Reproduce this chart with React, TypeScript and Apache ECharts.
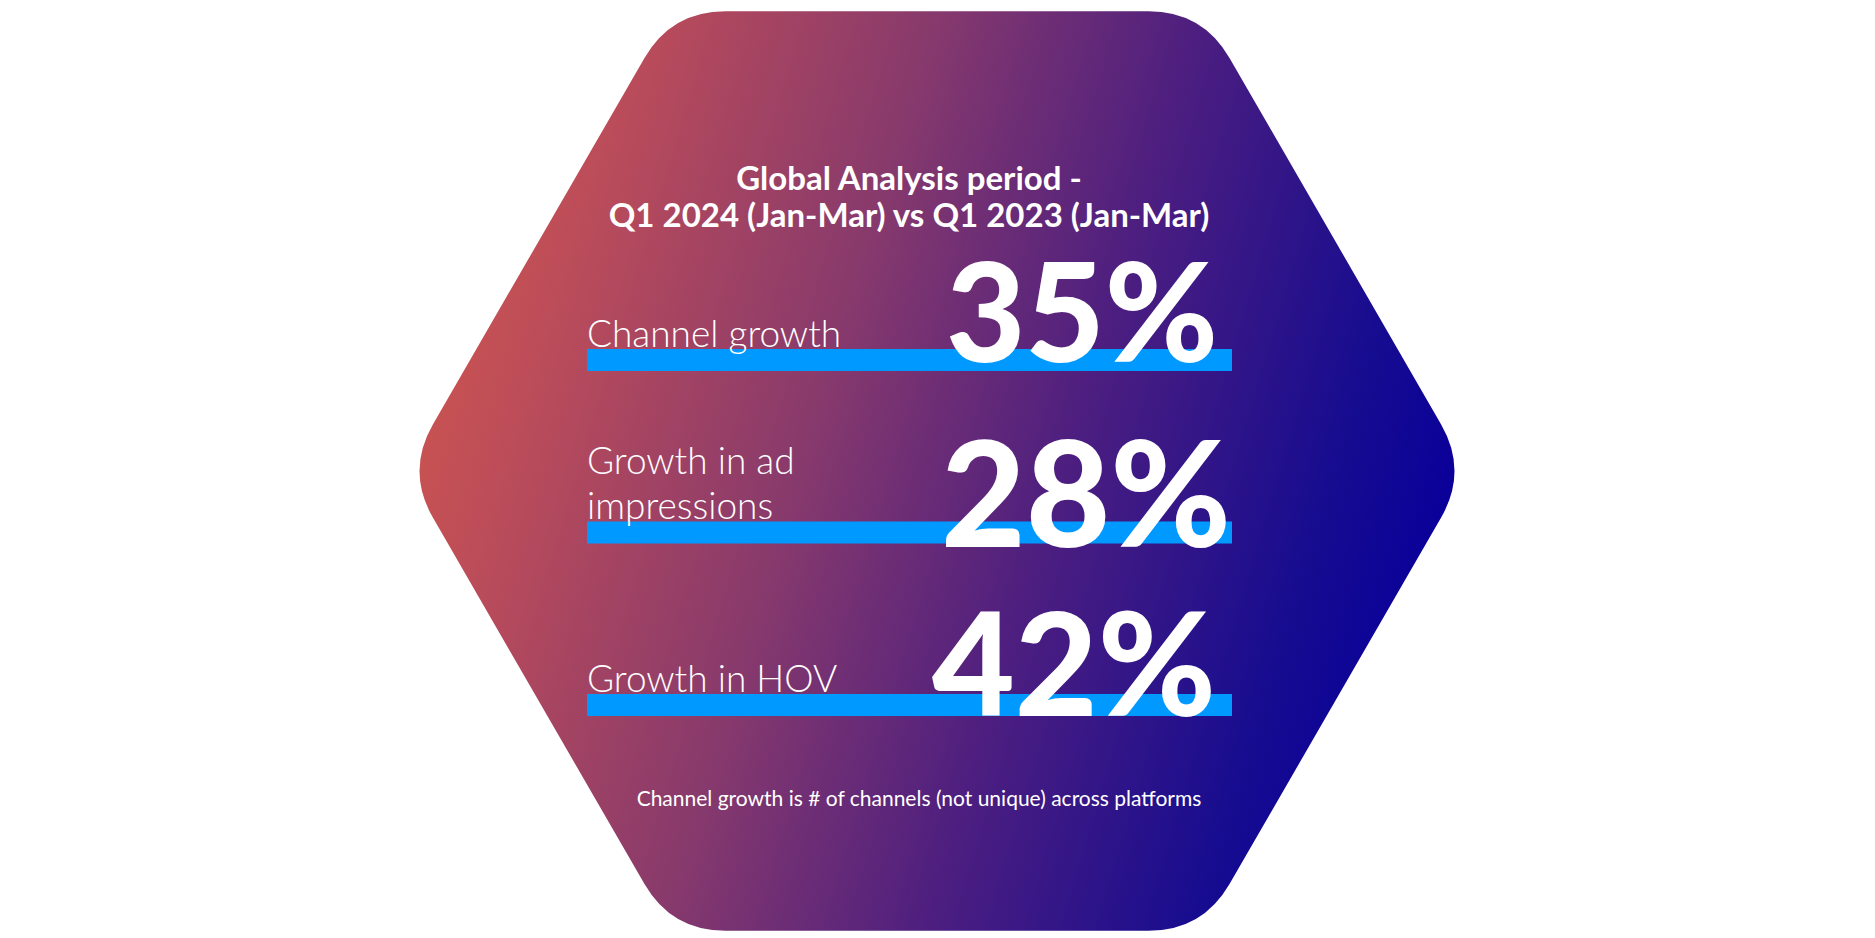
import React, { useEffect, useRef } from "react";
import * as echarts from "echarts";

// ---------------- data ----------------
const metricNames = ["Channel growth", "Growth in ad\nimpressions", "Growth in HOV"];
const growthPercent = [35, 28, 42];
const underlineSpan = [100, 100, 100];
const titleLines = ["Global Analysis period -", "Q1 2024 (Jan-Mar) vs Q1 2023 (Jan-Mar)"];
const footnoteText = "Channel growth is # of channels (not unique) across platforms";

// ---------------- layout / style ----------------
const W = 1875;
const H = 938;
const HEX = { cx: 937, cy: 471, side: 531, corner: 54 };
const NUMBER_FONT = [137, 146, 143];
const NUMBER_OFFSET: [number, number][] = [
  [-150, -51],
  [-146, -42.5],
  [-158, -45],
];
const GRADIENT_STOPS = [
  { offset: 0, color: "#C85252" },
  { offset: 0.113, color: "#B84B5B" },
  { offset: 0.366, color: "#883A6C" },
  { offset: 0.627, color: "#4C1E80" },
  { offset: 0.881, color: "#160C90" },
  { offset: 1, color: "#0A009A" },
];

function hexPath(): string {
  const { cx, cy, side, corner } = HEX;
  const h = (side * Math.sqrt(3)) / 2;
  const v = [
    [cx - side / 2, cy - h],
    [cx + side / 2, cy - h],
    [cx + side, cy],
    [cx + side / 2, cy + h],
    [cx - side / 2, cy + h],
    [cx - side, cy],
  ];
  const n = v.length;
  let d = "";
  for (let i = 0; i < n; i++) {
    const p = v[(i + n - 1) % n];
    const c = v[i];
    const q = v[(i + 1) % n];
    const lp = Math.hypot(p[0] - c[0], p[1] - c[1]);
    const lq = Math.hypot(q[0] - c[0], q[1] - c[1]);
    const a = [c[0] + ((p[0] - c[0]) * corner) / lp, c[1] + ((p[1] - c[1]) * corner) / lp];
    const b = [c[0] + ((q[0] - c[0]) * corner) / lq, c[1] + ((q[1] - c[1]) * corner) / lq];
    d += (i === 0 ? "M" : "L") + a[0].toFixed(2) + " " + a[1].toFixed(2) + " ";
    d += "Q" + c[0].toFixed(2) + " " + c[1].toFixed(2) + " " + b[0].toFixed(2) + " " + b[1].toFixed(2) + " ";
  }
  return d + "Z";
}

echarts.graphic.registerShape("hexagonShape", echarts.graphic.extendPath(hexPath(), {}));

export default function App() {
  const ref = useRef<HTMLDivElement>(null);

  useEffect(() => {
    if (!ref.current) return;
    const chart = echarts.init(ref.current, undefined, { renderer: "svg" });
    const option: any = {
      animation: false,
      backgroundColor: "#ffffff",
      grid: { left: 587, top: 273.75, width: 645, height: 517.5, containLabel: false },
      xAxis: { type: "value", min: 0, max: 100, show: false },
      yAxis: { type: "category", data: metricNames, inverse: true, show: false },
      graphic: {
        elements: [
          {
            type: "hexagonShape",
            x: 0,
            y: 0,
            z: 0,
            silent: true,
            style: {
              fill: new echarts.graphic.LinearGradient(410, 470, 1374, 758, GRADIENT_STOPS, true),
            },
          },
          {
            type: "text",
            x: 909,
            y: 176.5,
            z: 1,
            silent: true,
            style: {
              text: titleLines[0],
              fill: "#ffffff",
              fontFamily: "Lato",
              fontWeight: 700,
              fontSize: 33,
              align: "center",
              verticalAlign: "middle",
            },
          },
          {
            type: "text",
            x: 909,
            y: 214,
            z: 1,
            silent: true,
            style: {
              text: titleLines[1],
              fill: "#ffffff",
              fontFamily: "Lato",
              fontWeight: 700,
              fontSize: 33,
              align: "center",
              verticalAlign: "middle",
            },
          },
          {
            type: "text",
            x: 919,
            y: 797.6,
            z: 1,
            silent: true,
            style: {
              text: footnoteText,
              fill: "#ffffff",
              fontFamily: "Lato",
              fontWeight: 400,
              fontSize: 21,
              align: "center",
              verticalAlign: "middle",
            },
          },
        ],
      },
      series: [
        {
          type: "bar",
          name: "Underline",
          data: underlineSpan,
          barWidth: 22,
          barGap: "-100%",
          silent: true,
          z: 2,
          itemStyle: { color: "#0099FF" },
          label: {
            show: true,
            position: [0, 0],
            align: "left",
            verticalAlign: "bottom",
            formatter: "{b}",
            color: "#ffffff",
            fontFamily: "Lato",
            fontWeight: 300,
            fontSize: 37,
            lineHeight: 45,
            offset: [0, 5.5],
          },
        },
        {
          type: "bar",
          name: "Growth",
          data: underlineSpan.map((v, i) => ({
            value: v,
            label: { fontSize: NUMBER_FONT[i], offset: NUMBER_OFFSET[i] },
          })),
          barWidth: 22,
          barGap: "-100%",
          silent: true,
          z: 3,
          itemStyle: { color: "rgba(0,0,0,0)" },
          label: {
            show: true,
            position: "insideRight",
            distance: 0,
            align: "center",
            verticalAlign: "middle",
            formatter: (p: any) => growthPercent[p.dataIndex] + "%",
            color: "#ffffff",
            fontFamily: "Lato",
            fontWeight: 900,
          },
        },
      ],
    };
    chart.setOption(option);
    return () => chart.dispose();
  }, []);

  return (
    <div
      ref={ref}
      style={{ position: "fixed", left: 0, top: 0, width: W, height: H, background: "#ffffff" }}
    />
  );
}
